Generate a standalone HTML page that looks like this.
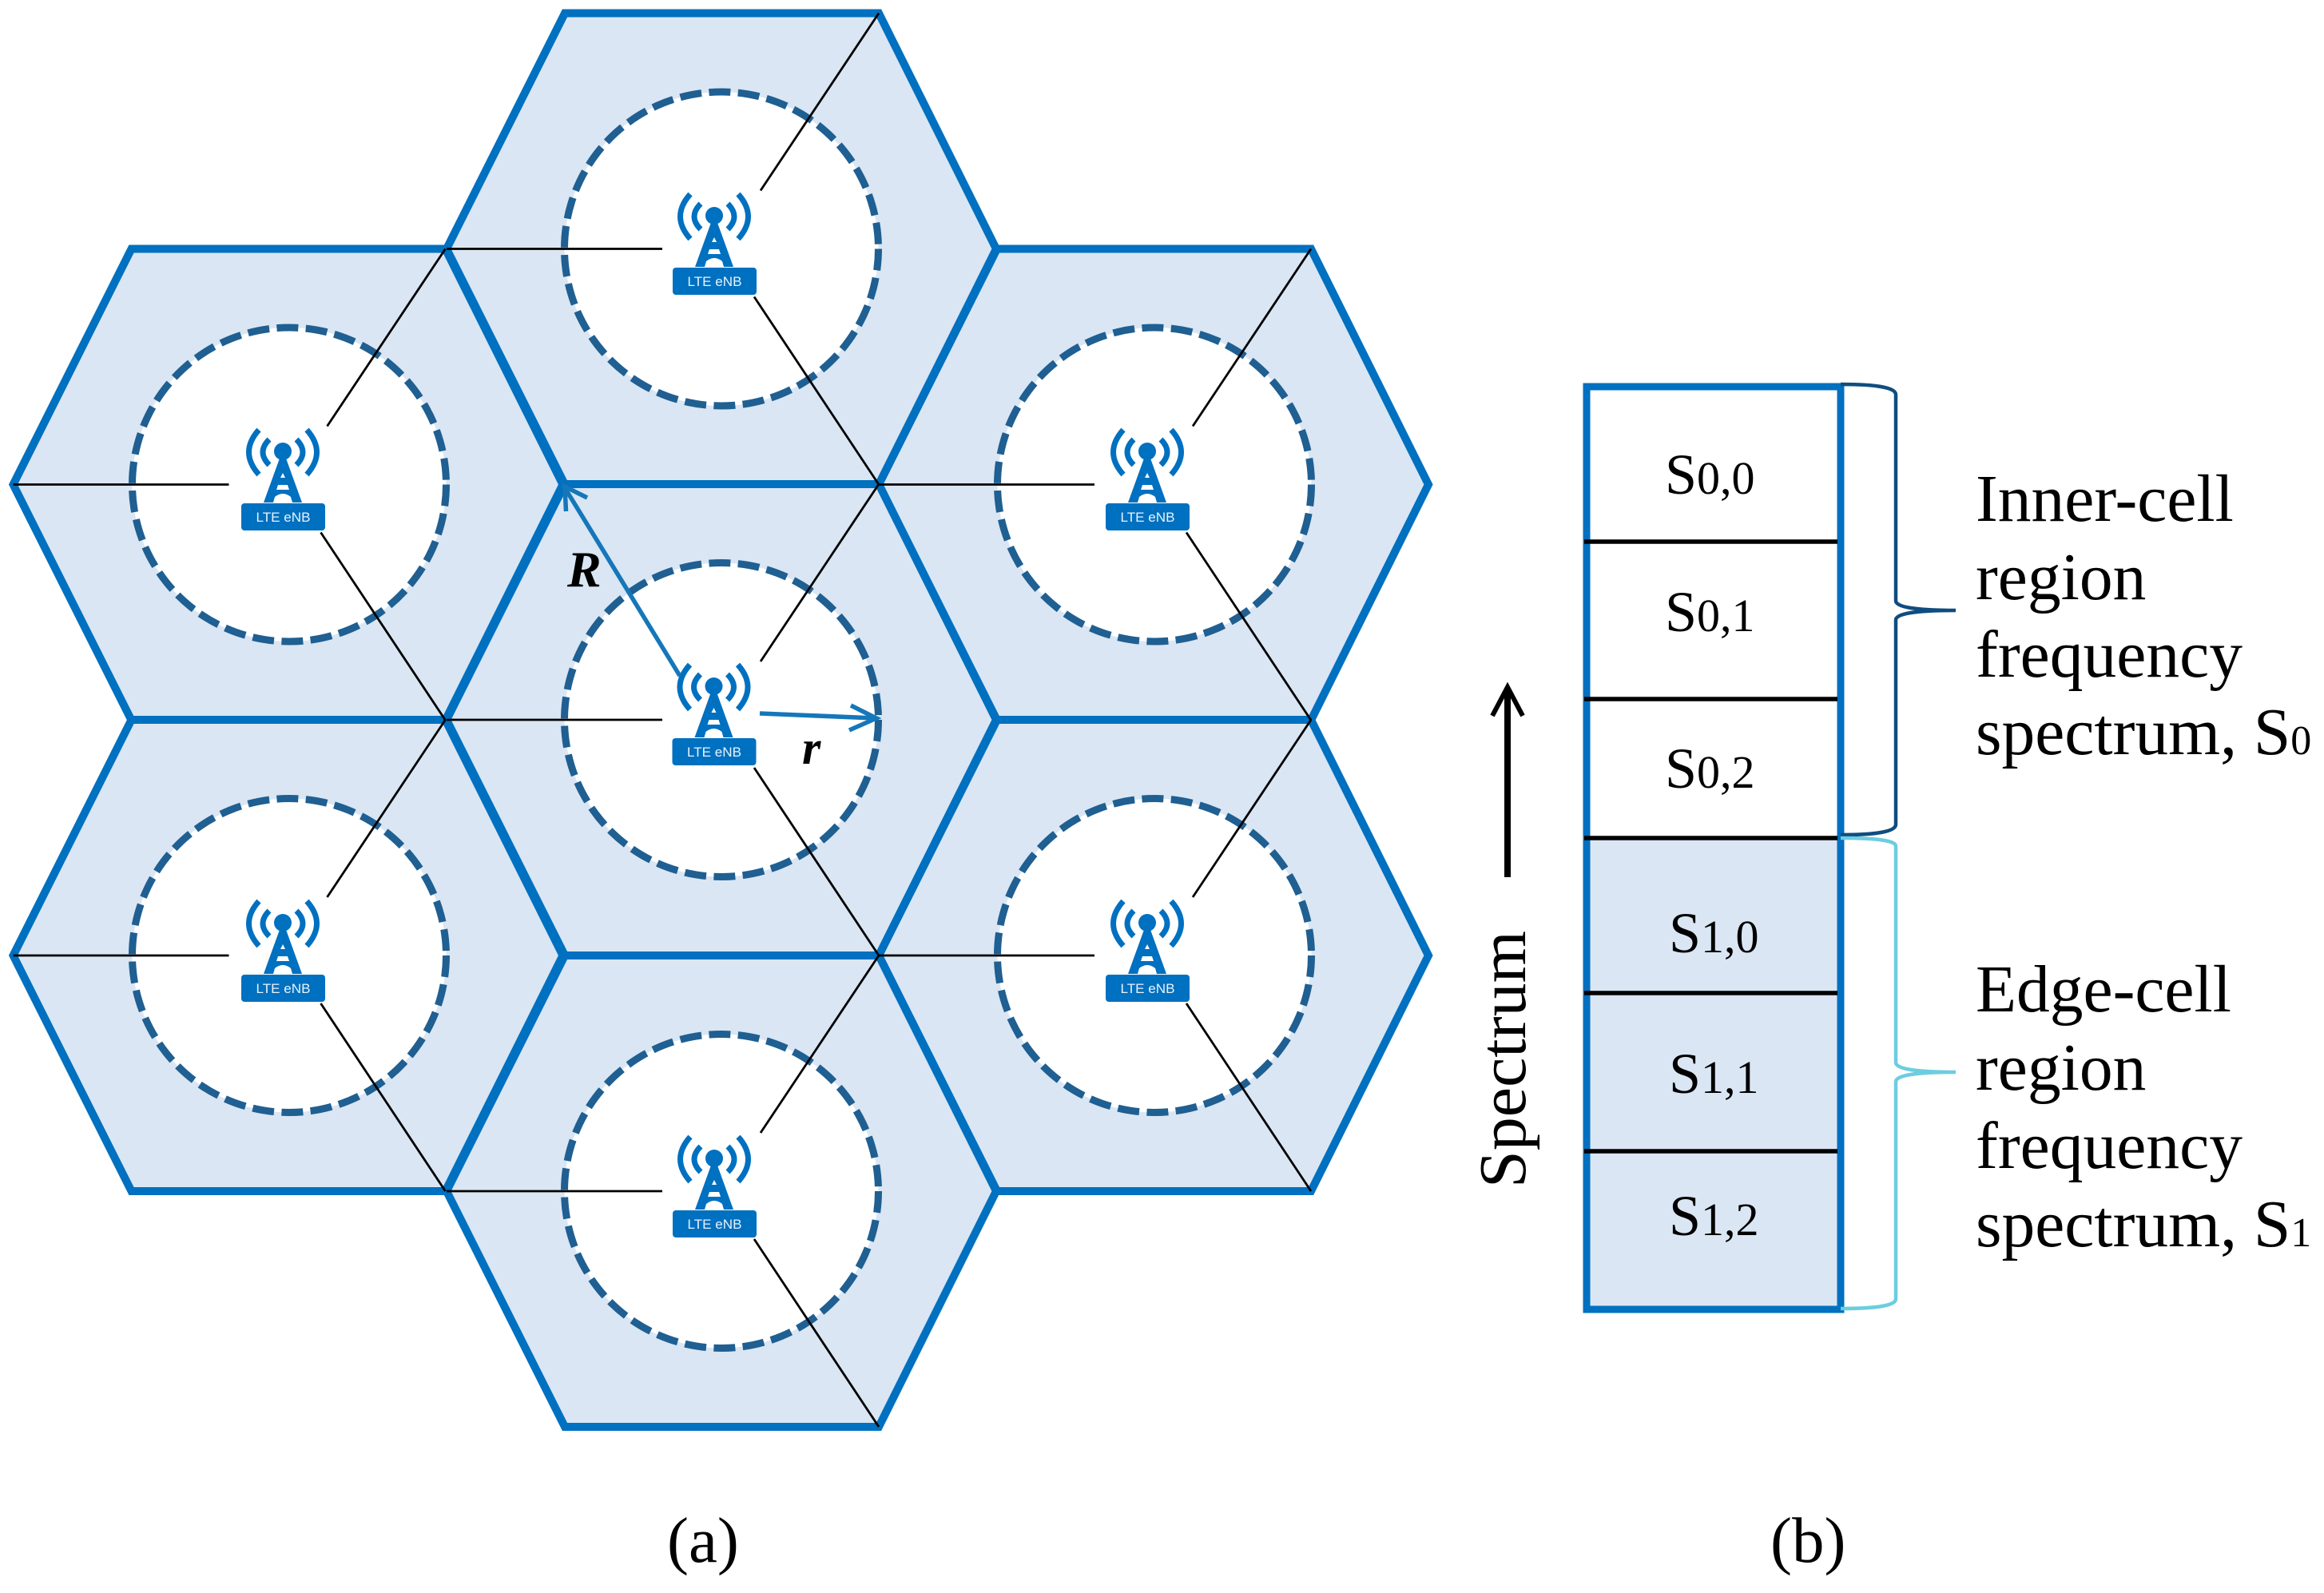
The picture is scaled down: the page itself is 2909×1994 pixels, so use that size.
<!DOCTYPE html>
<html><head><meta charset="utf-8"><style>
html,body{margin:0;padding:0;background:#fff}
svg{display:block}
text{font-family:"Liberation Serif",serif;fill:#000}
.lte{font-family:"Liberation Sans",sans-serif;fill:#e8f3fb;font-size:17px;text-anchor:middle}
</style></head><body>
<svg width="2909" height="1994" viewBox="0 0 2909 1994" xmlns="http://www.w3.org/2000/svg">
<defs>
<path id="hex" d="M-196,-295 L197,-295 L344,0 L197,295 L-196,295 L-344,0Z" fill="#DAE6F3" stroke="#0070C0" stroke-width="10" stroke-linejoin="miter"/>
<circle id="circ" r="196.5" fill="#fff" stroke="#1F5F92" stroke-width="9" stroke-dasharray="27 9.4"/>
<g id="lines" stroke="#000" stroke-width="2.8" fill="none">
<path d="M-344,0 L-74,0"/><path d="M197,-295 L49,-73"/><path d="M41,60 L197,295"/>
</g>
<g id="tower">
<circle cx="0" cy="0" r="11" fill="#0070C0"/>
<path d="M-3,6 L3,6 L24,64 L-24,64Z" fill="#0070C0"/>
<path d="M0,27 L3,33 L-3,33Z M-6,42 L6,42 L8,48 L-8,48Z M-10,57 Q0,49 10,57 L12,64 L-12,64Z" fill="#fff"/>
<path d="M-17,-15 Q-33,1 -17,17 M17,-15 Q33,1 17,17" fill="none" stroke="#0070C0" stroke-width="7"/>
<path d="M-30,-27 Q-55,1 -30,29 M30,-27 Q55,1 30,29" fill="none" stroke="#0070C0" stroke-width="7"/>
<rect x="-52" y="65" width="105" height="34" rx="4" fill="#0070C0"/>
</g>
</defs>

<use href="#hex" x="903" y="311.5"/>
<use href="#hex" x="360.5" y="606.5"/>
<use href="#hex" x="1444" y="606.5"/>
<use href="#hex" x="360.5" y="1196"/>
<use href="#hex" x="1444" y="1196"/>
<use href="#hex" x="903" y="1491"/>
<use href="#hex" x="903" y="901"/>

<use href="#circ" x="903" y="311.5"/>
<use href="#circ" x="362" y="606.5"/>
<use href="#circ" x="1445" y="606.5"/>
<use href="#circ" x="903" y="901"/>
<use href="#circ" x="362" y="1196"/>
<use href="#circ" x="1445" y="1196"/>
<use href="#circ" x="903" y="1491"/>

<use href="#lines" x="903" y="311.5"/>
<use href="#lines" x="360.5" y="606.5"/>
<use href="#lines" x="1444" y="606.5"/>
<use href="#lines" x="903" y="901"/>
<use href="#lines" x="360.5" y="1196"/>
<use href="#lines" x="1444" y="1196"/>
<use href="#lines" x="903" y="1491"/>

<use href="#tower" x="894" y="270"/><text class="lte" x="894.5" y="358" textLength="68" lengthAdjust="spacingAndGlyphs">LTE eNB</text>
<use href="#tower" x="354" y="565"/><text class="lte" x="354.5" y="653" textLength="68" lengthAdjust="spacingAndGlyphs">LTE eNB</text>
<use href="#tower" x="1436" y="565"/><text class="lte" x="1436.5" y="653" textLength="68" lengthAdjust="spacingAndGlyphs">LTE eNB</text>
<use href="#tower" x="893.5" y="859"/><text class="lte" x="894" y="947" textLength="68" lengthAdjust="spacingAndGlyphs">LTE eNB</text>
<use href="#tower" x="354" y="1155"/><text class="lte" x="354.5" y="1243" textLength="68" lengthAdjust="spacingAndGlyphs">LTE eNB</text>
<use href="#tower" x="1436" y="1155"/><text class="lte" x="1436.5" y="1243" textLength="68" lengthAdjust="spacingAndGlyphs">LTE eNB</text>
<use href="#tower" x="894" y="1450"/><text class="lte" x="894.5" y="1538" textLength="68" lengthAdjust="spacingAndGlyphs">LTE eNB</text>

<g fill="none" stroke="#1577BA" stroke-width="5.5">
<path d="M851,846 L706,609"/>
<path d="M708.5,640 L707,609 L735,623"/>
<path d="M951,893 L1096,899"/>
<path d="M1065,883 L1097,899 L1063,914"/>
</g>
<text x="710" y="734" font-size="64" font-weight="bold" font-style="italic">R</text>
<text x="1004" y="956" font-size="60" font-weight="bold" font-style="italic">r</text>

<!-- spectrum panel -->
<rect x="1986" y="484" width="318" height="564" fill="#fff"/>
<rect x="1986" y="1048" width="318" height="590" fill="#DAE6F3"/>
<rect x="1986" y="484" width="318" height="1155" fill="none" stroke="#0070C0" stroke-width="9"/>
<g stroke="#000" stroke-width="5.5">
<path d="M1983,678 H2300"/><path d="M1983,875 H2300"/><path d="M1983,1049 H2300"/>
<path d="M1983,1243 H2300"/><path d="M1983,1441 H2300"/>
</g>
<path d="M2304,481 Q2373,481 2373,494 L2373,752 Q2373,764 2448,764 Q2373,764 2373,776 L2373,1032 Q2373,1045 2304,1045" fill="none" stroke="#0F4D80" stroke-width="4.5"/>
<path d="M2304,1049 Q2373,1049 2373,1059 L2373,1330 Q2373,1342 2448,1342 Q2373,1342 2373,1354 L2373,1626 Q2373,1638 2304,1638" fill="none" stroke="#6CCDE0" stroke-width="4.5"/>

<g font-size="72">
<text x="2084" y="618">S<tspan font-size="58">0,0</tspan></text>
<text x="2084" y="790">S<tspan font-size="58">0,1</tspan></text>
<text x="2084" y="986">S<tspan font-size="58">0,2</tspan></text>
<text x="2089" y="1192">S<tspan font-size="58">1,0</tspan></text>
<text x="2089" y="1368">S<tspan font-size="58">1,1</tspan></text>
<text x="2089" y="1546">S<tspan font-size="58">1,2</tspan></text>
</g>
<g font-size="83.5">
<text x="2473" y="652">Inner-cell</text>
<text x="2473" y="750">region</text>
<text x="2473" y="847"><tspan textLength="334" lengthAdjust="spacingAndGlyphs">frequency</tspan></text>
<text x="2473" y="944">spectrum, S<tspan font-size="52">0</tspan></text>
<text x="2473" y="1266">Edge-cell</text>
<text x="2473" y="1364">region</text>
<text x="2473" y="1462"><tspan textLength="334" lengthAdjust="spacingAndGlyphs">frequency</tspan></text>
<text x="2473" y="1560">spectrum, S<tspan font-size="52">1</tspan></text>
</g>
<text transform="translate(1909,1487) rotate(-90)" font-size="84">Spectrum</text>
<path d="M1887,1098 L1887,861" stroke="#000" stroke-width="8" fill="none"/>
<path d="M1868,896 L1887,860 L1906,896" stroke="#000" stroke-width="6" fill="none"/>
<text x="835" y="1955" font-size="81">(a)</text>
<text x="2216" y="1955" font-size="81">(b)</text>
</svg>
</body></html>
